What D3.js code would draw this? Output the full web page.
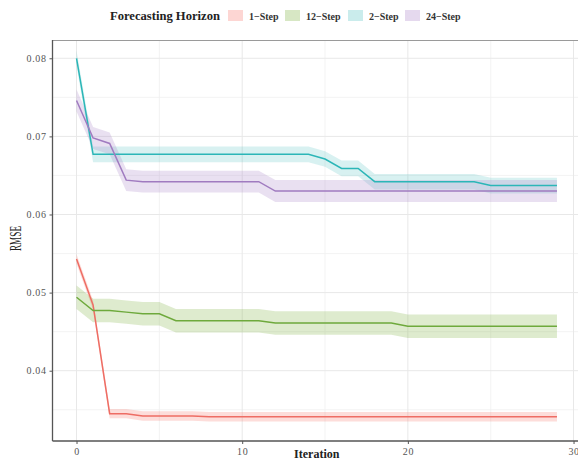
<!DOCTYPE html>
<html>
<head>
<meta charset="utf-8">
<script src="https://cdn.jsdelivr.net/npm/d3@7"></script>
<style>
  html, body { margin: 0; padding: 0; background: #fff; }
  svg { display: block; }
  text { font-family: "Liberation Serif", "DejaVu Serif", serif; }
</style>
</head>
<body>
<svg id="chart" width="578" height="461"></svg>
<script>
// RMSE per iteration for each forecasting horizon
const iterations = d3.range(0, 30);
const horizons = ["1\u2212Step", "12\u2212Step", "2\u2212Step", "24\u2212Step"];

const rmse1 = [0.0543, 0.0484, 0.0345, 0.0345, 0.0342, 0.0342, 0.0342, 0.0342,
  0.0341, 0.0341, 0.0341, 0.0341, 0.0341, 0.0341, 0.0341, 0.0341, 0.0341, 0.0341,
  0.0341, 0.0341, 0.0341, 0.0341, 0.0341, 0.0341, 0.0341, 0.0341, 0.0341, 0.0341,
  0.0341, 0.0341];
const rmse12 = [0.0494, 0.0477, 0.0477, 0.0475, 0.0473, 0.0473,
  0.0464, 0.0464, 0.0464, 0.0464, 0.0464, 0.0464,
  0.0461, 0.0461, 0.0461, 0.0461, 0.0461, 0.0461, 0.0461, 0.0461,
  0.0457, 0.0457, 0.0457, 0.0457, 0.0457, 0.0457, 0.0457, 0.0457, 0.0457, 0.0457];
const rmse2 = [0.0800,
  0.0677, 0.0677, 0.0677, 0.0677, 0.0677, 0.0677, 0.0677, 0.0677, 0.0677, 0.0677,
  0.0677, 0.0677, 0.0677, 0.0677,
  0.0671, 0.0659, 0.0659,
  0.0642, 0.0642, 0.0642, 0.0642, 0.0642, 0.0642, 0.0642,
  0.0637, 0.0637, 0.0637, 0.0637, 0.0637];
const rmse24 = [0.0746, 0.0698, 0.0691, 0.0644,
  0.0642, 0.0642, 0.0642, 0.0642, 0.0642, 0.0642, 0.0642, 0.0642,
  0.0630, 0.0630, 0.0630, 0.0630, 0.0630, 0.0630, 0.0630, 0.0630, 0.0630,
  0.0630, 0.0630, 0.0630, 0.0630, 0.0630, 0.0630, 0.0630, 0.0630, 0.0630];

// half-width of the uncertainty band around each curve
const bandHalfWidth = [0.0006, 0.0015, 0.0010, 0.0014];

const xTicks = [0, 10, 20, 30];
const yTicks = [0.04, 0.05, 0.06, 0.07, 0.08];

const lineColors = ["#EE6D64", "#6EA93C", "#2BB6B7", "#A07BC0"];
const bandColors = ["#F8766D", "#7CAE3A", "#4FBFC0", "#A882C8"];
const bandOpacity = [0.25, 0.25, 0.22, 0.25];

const series = [rmse1, rmse12, rmse2, rmse24].map((vals, i) => ({
  name: horizons[i],
  values: vals.map((v, j) => ({ x: iterations[j], y: v, lo: v - bandHalfWidth[i], hi: v + bandHalfWidth[i] }))
}));

const svg = d3.select("#chart");
const panel = { left: 52.5, top: 40, right: 581, bottom: 441 };

const x = d3.scaleLinear().domain([-1.45, 30.45]).range([panel.left, panel.right]);
const y = d3.scaleLinear().domain([0.0310, 0.08234]).range([panel.bottom, panel.top]);

// panel background and grid
svg.append("rect").attr("x", panel.left).attr("y", panel.top)
  .attr("width", panel.right - panel.left).attr("height", panel.bottom - panel.top)
  .attr("fill", "#fff");

const g = svg.append("g");
const minorX = [5, 15, 25];
const minorY = [0.035, 0.045, 0.055, 0.065, 0.075];
g.selectAll(".gxm").data(minorX).join("line")
  .attr("x1", d => x(d)).attr("x2", d => x(d)).attr("y1", panel.top).attr("y2", panel.bottom)
  .attr("stroke", "#f0f0f0").attr("stroke-width", 0.8);
g.selectAll(".gym").data(minorY).join("line")
  .attr("x1", panel.left).attr("x2", panel.right).attr("y1", d => y(d)).attr("y2", d => y(d))
  .attr("stroke", "#f0f0f0").attr("stroke-width", 0.8);
g.selectAll(".gx").data(xTicks).join("line")
  .attr("x1", d => x(d)).attr("x2", d => x(d)).attr("y1", panel.top).attr("y2", panel.bottom)
  .attr("stroke", "#e8e8e8").attr("stroke-width", 1);
g.selectAll(".gy").data(yTicks).join("line")
  .attr("x1", panel.left).attr("x2", panel.right).attr("y1", d => y(d)).attr("y2", d => y(d))
  .attr("stroke", "#e8e8e8").attr("stroke-width", 1);

// top border of the panel
svg.append("line").attr("x1", panel.left).attr("x2", panel.right)
  .attr("y1", panel.top + 0.5).attr("y2", panel.top + 0.5)
  .attr("stroke", "#9a9a9a").attr("stroke-width", 1.2);

// bands
const area = d3.area().x(d => x(d.x)).y0(d => y(d.lo)).y1(d => y(d.hi));
svg.append("g").selectAll("path").data(series).join("path")
  .attr("d", d => area(d.values))
  .attr("fill", (d, i) => bandColors[i]).attr("fill-opacity", (d, i) => bandOpacity[i]);

// lines
const line = d3.line().x(d => x(d.x)).y(d => y(d.y));
svg.append("g").selectAll("path").data(series).join("path")
  .attr("d", d => line(d.values))
  .attr("fill", "none").attr("stroke", (d, i) => lineColors[i]).attr("stroke-width", 1.5);

// axes
const xAxis = svg.append("g").attr("transform", `translate(0,${panel.bottom})`)
  .call(d3.axisBottom(x).tickValues(xTicks).tickSize(3).tickPadding(4).tickFormat(d3.format("d")));
const yAxis = svg.append("g").attr("transform", `translate(${panel.left},0)`)
  .call(d3.axisLeft(y).tickValues(yTicks).tickSize(3).tickPadding(3).tickFormat(d3.format(".2f")));
[xAxis, yAxis].forEach(a => {
  a.select(".domain").attr("stroke", "#555").attr("stroke-width", 1.3);
  a.selectAll(".tick line").attr("stroke", "#555");
  a.selectAll(".tick text").attr("fill", "#555").attr("font-size", 10)
    .attr("font-family", "'Liberation Serif', serif").style("letter-spacing", "0.6px");
});
yAxis.select(".domain").attr("d", `M0,${panel.top}V${panel.bottom}`);
xAxis.select(".domain").attr("d", `M${panel.left},0H${panel.right}`);

// axis titles
svg.append("text").attr("x", (panel.left + panel.right) / 2).attr("y", 458)
  .attr("text-anchor", "middle").attr("font-size", 12).attr("font-weight", "bold")
  .attr("fill", "#222").text("Iteration");
svg.append("text")
  .attr("transform", `translate(21,${(panel.top + panel.bottom) / 2 - 2}) rotate(-90)`)
  .attr("text-anchor", "middle").attr("font-size", 16).attr("fill", "#222")
  .attr("textLength", 25).attr("lengthAdjust", "spacingAndGlyphs")
  .text("RMSE");

// legend
const legend = svg.append("g");
legend.append("text").attr("x", 110).attr("y", 20).attr("font-size", 12.6)
  .attr("font-weight", "bold").attr("fill", "#222").text("Forecasting Horizon");
const keyX = [228, 285, 348, 405];
const items = legend.selectAll(".item").data(series).join("g")
  .attr("transform", (d, i) => `translate(${keyX[i]},10)`);
items.append("rect").attr("width", 15).attr("height", 11)
  .attr("fill", (d, i) => bandColors[i]).attr("fill-opacity", 0.3);
items.append("text").attr("x", 21).attr("y", 9.5).attr("font-size", 10)
  .attr("font-weight", "bold").attr("fill", "#333").text(d => d.name);
</script>
</body>
</html>
